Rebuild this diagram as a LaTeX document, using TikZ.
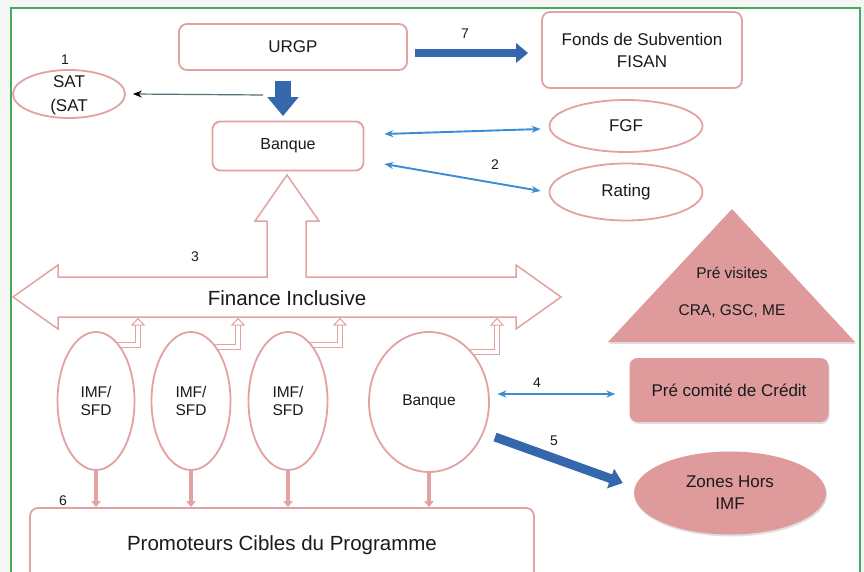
\documentclass[tikz,border=0pt]{standalone}
\usepackage{fontspec}
\setmainfont{Liberation Sans}
\usetikzlibrary{arrows.meta,shapes.geometric,calc,shadows}
\definecolor{pinkline}{HTML}{E3A2A2}
\definecolor{pinkfill}{HTML}{DF9B9B}
\definecolor{bigblue}{HTML}{3567AC}
\definecolor{thinblue}{HTML}{3A8DD5}
\definecolor{framegreen}{HTML}{45AA60}
\definecolor{txt}{HTML}{1A1A1A}
\definecolor{satgrey}{HTML}{55707A}
\definecolor{pagebg}{HTML}{F5F7F5}
\newcommand{\fs}[1]{\fontsize{#1}{#1}\selectfont}
\pgfdeclarelayer{back}
\pgfdeclarelayer{hooks}
\pgfsetlayers{back,hooks,main}
\newcommand{\bent}[3]{%
  \draw[hookline] #1 -- ++(#2,0) -- ++(0,-#3) coordinate (hk);
  \filldraw[draw=pinkline, fill=white, line width=1pt, line join=miter]
    ([xshift=-6pt]hk) -- ([yshift=6.5pt]hk) -- ([xshift=6pt]hk) -- cycle;}
\begin{document}
\begin{tikzpicture}[x=1pt,y=-1pt,
  every node/.style={text=txt},
  rbox/.style={draw=pinkline, line width=1.8pt, rounded corners=8pt, fill=white, inner sep=0pt},
  pell/.style={ellipse, draw=pinkline, line width=1.8pt, fill=white, inner sep=0pt},
  fbox/.style={fill=pinkfill, rounded corners=8pt, inner sep=0pt,
    drop shadow={opacity=0.25, shadow xshift=1pt, shadow yshift=-2pt}},
  fell/.style={ellipse, fill=pinkfill, inner sep=0pt,
    drop shadow={opacity=0.25, shadow xshift=1pt, shadow yshift=-2pt}},
  thinarrow/.style={draw=thinblue, line width=1.9pt, {Stealth[length=9pt,width=7pt]}-{Stealth[length=9pt,width=7pt]}},
  satarrow/.style={draw=satgrey, line width=1.2pt, -{Stealth[length=9pt,width=7pt,color=black]}},
  bigarrow/.style={draw=bigblue, line width=8pt, -{Triangle[length=12pt,width=19pt]}},
  varrow/.style={draw=pinkline, line width=3.5pt, -{Triangle[length=6pt,width=9pt]}},
  hookline/.style={draw=pinkline, line width=1pt, double=white, double distance=4.5pt},
  num/.style={font=\fs{14}},
]
\useasboundingbox (0,0) rectangle (864,572);
\clip (0,0) rectangle (864,572);
\begin{pgfonlayer}{back}
  \fill[pagebg] (0,0) rectangle (864,572);
  \fill[white] (11,8) rectangle (860,600);
  \draw[framegreen, line width=1.5pt] (11,8) rectangle (860,600);
\end{pgfonlayer}

% top row
\node[rbox, minimum width=228, minimum height=46, font=\fs{17}] (urgp) at (293,47) {URGP};
\node[rbox, minimum width=200, minimum height=76, font=\fs{17}, align=center] (fisan) at (642,50) {Fonds de Subvention\\[5pt]FISAN};
\node[num] (n7) at (465,34) {7};
\draw[bigarrow] ([shift={(7,6)}]urgp.east) -- ([shift={(-13,3)}]fisan.west);

\node[pell, minimum width=112, minimum height=48] (sat) at (69,94) {};
\node[font=\fs{17}, align=center] (sattxt) at (69,95) {SAT\\[7pt](SAT};
\node[num] (n1) at (65,60) {1};

\node[rbox, minimum width=151, minimum height=49, font=\fs{16}] (banque) at (288,146) {Banque};
\draw[bigarrow, line width=16pt, -{Triangle[length=19pt,width=30pt]}] ([shift={(-10,10)}]urgp.south) -- ([shift={(-5,-4.5)}]banque.north);
\coordinate (satsrc) at (263,95);
\draw[satarrow] (satsrc) -- ([xshift=7pt]sat.east);

\node[pell, minimum width=153, minimum height=52, font=\fs{17}] (fgf) at (626,126) {FGF};
\node[pell, minimum width=153, minimum height=57, font=\fs{17}] (rating) at (626,192) {Rating};
\draw[thinarrow] ([shift={(20,-12)}]banque.east) -- ([shift={(-8,3)}]fgf.west);
\draw[thinarrow] ([shift={(20,18)}]banque.east) -- ([shift={(-8,-1)}]rating.west);
\node[num] (n2) at (495,165) {2};

% Finance Inclusive arrow shape
\draw[pinkline, line width=1.5pt, fill=white, line join=miter]
  (13,297) -- (58,265) -- (58,277) -- (267,277) -- (267,221) -- (255,221) -- (287,175)
  -- (319,221) -- (306,221) -- (306,277) -- (516,277) -- (516,265) -- (561,297)
  -- (516,329) -- (516,317) -- (58,317) -- (58,329) -- cycle;
\node[font=\fs{20.5}] (fin) at (287,298) {Finance Inclusive};
\node[num] (n3) at (195,257) {3};

% institutions
\node[pell, minimum width=77, minimum height=138, font=\fs{15.5}, align=center] (imf1) at (96,401) {IMF/\\[3pt]SFD};
\node[pell, minimum width=79, minimum height=138, font=\fs{15.5}, align=center] (imf2) at (191,401) {IMF/\\[3pt]SFD};
\node[pell, minimum width=79, minimum height=138, font=\fs{15.5}, align=center] (imf3) at (288,401) {IMF/\\[3pt]SFD};
\node[pell, minimum width=120, minimum height=140, font=\fs{15.5}] (bq2) at (429,402) {Banque};

\begin{pgfonlayer}{hooks}
  \bent{([shift={(19,-56)}]imf1.center)}{23}{20}
  \bent{([shift={(24,-54)}]imf2.center)}{23}{22}
  \bent{([shift={(22,-56)}]imf3.center)}{30}{20}
  \bent{([shift={(41,-50)}]bq2.center)}{27}{27}
\end{pgfonlayer}

\node[rbox, minimum width=504, minimum height=74, font=\fs{20.5}] (prom) at (282,545) {Promoteurs Cibles du Programme};
\node[num] (n6) at (63,501) {6};
\draw[varrow] (imf1.south) -- (imf1.south |- prom.north);
\draw[varrow] (imf2.south) -- (imf2.south |- prom.north);
\draw[varrow] (imf3.south) -- (imf3.south |- prom.north);
\draw[varrow] (bq2.south) -- (bq2.south |- prom.north);

% right side
\path[fill=pinkfill, drop shadow={opacity=0.25, shadow xshift=1pt, shadow yshift=-2pt}]
  (608,342) -- (732,209) -- (855,342) -- cycle;
\node[font=\fs{15.5}] (pv) at (732,273) {Pré visites};
\node[font=\fs{15.5}] (cra) at (732,311) {CRA, GSC, ME};

\node[fbox, minimum width=199, minimum height=64, font=\fs{17}] (prec) at (729,390) {Pré comité de Crédit};
\draw[thinarrow] ([shift={(7.5,-8)}]bq2.east) -- ([shift={(-14,4)}]prec.west);
\node[num] (n4) at (537,383) {4};

\node[fell, minimum width=192, minimum height=83, font=\fs{17}, align=center] (zones) at (730,493) {Zones Hors\\[5pt]IMF};
\draw[bigarrow, line width=9pt, -{Triangle[length=13pt,width=20pt]}] ([shift={(66,35)}]bq2.center) -- ([shift={(-11,-10)}]zones.west);
\node[num] (n5) at (554,441) {5};
\end{tikzpicture}
\end{document}
